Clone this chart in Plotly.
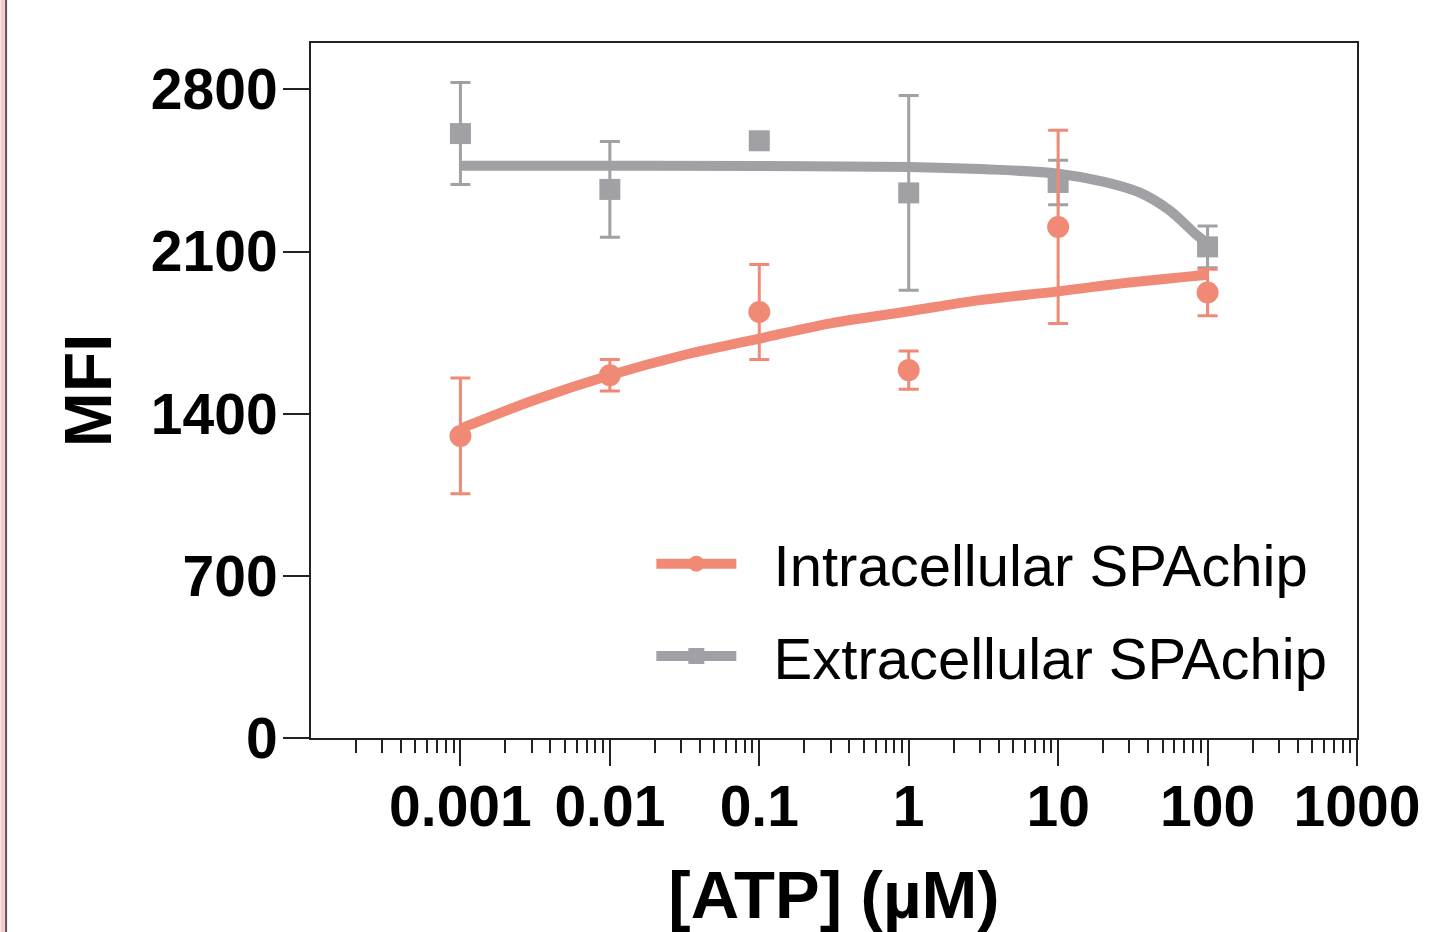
import plotly.graph_objects as go

# ---- data ----
atp = [0.001, 0.01, 0.1, 1, 10, 100]
intra_mfi = [1304, 1566, 1839, 1588, 2206, 1923]
intra_sd = [250, 68, 205, 83, 417, 100]
extra_mfi = [2609, 2368, 2578, 2353, 2398, 2120]
extra_sd = [220, 207, 15, 420, 96, 90]

intra_fit_x = [0.001, 0.003, 0.01, 0.03, 0.1, 0.3, 1, 3, 10, 30, 100]
intra_fit_y = [1335, 1455, 1566, 1650, 1724, 1790, 1842, 1890, 1928, 1966, 2000]
extra_fit_x = [0.001, 0.01, 0.1, 1, 3, 10, 20, 35, 55, 85, 100]
extra_fit_y = [2470, 2470, 2469, 2465, 2456, 2436, 2402, 2355, 2280, 2170, 2135]

y_ticks = [0, 700, 1400, 2100, 2800]
x_ticks = [0.001, 0.01, 0.1, 1, 10, 100, 1000]
x_ticklabels = ["0.001", "0.01", "0.1", "1", "10", "100", "1000"]
series_names = ["Intracellular SPAchip", "Extracellular SPAchip"]

SALMON = "#F08A76"
GRAY = "#A1A0A5"
FONT = "Liberation Sans, Arial, sans-serif"
NB = "\u00a0\u00a0"

fig = go.Figure()

# fitted curves
fig.add_trace(go.Scatter(x=intra_fit_x, y=intra_fit_y, mode="lines",
                         line=dict(color=SALMON, width=10, shape="spline"),
                         showlegend=False, hoverinfo="skip"))
fig.add_trace(go.Scatter(x=extra_fit_x, y=extra_fit_y, mode="lines",
                         line=dict(color=GRAY, width=10, shape="spline"),
                         showlegend=False, hoverinfo="skip"))

# data points with error bars
fig.add_trace(go.Scatter(x=atp, y=extra_mfi, mode="markers",
                         marker=dict(symbol="square", size=21, color=GRAY),
                         error_y=dict(type="data", array=extra_sd, color=GRAY,
                                      thickness=3, width=10),
                         showlegend=False))
fig.add_trace(go.Scatter(x=atp, y=intra_mfi, mode="markers",
                         marker=dict(symbol="circle", size=22, color=SALMON),
                         error_y=dict(type="data", array=intra_sd, color=SALMON,
                                      thickness=3, width=10),
                         showlegend=False))

# legend entries
fig.add_trace(go.Scatter(x=[None], y=[None], mode="lines+markers", name=NB + series_names[0],
                         legendgroup="a",
                         line=dict(color=SALMON, width=10),
                         marker=dict(symbol="circle", size=22, color=SALMON)))
fig.add_trace(go.Scatter(x=[None], y=[None], mode="lines+markers", name=NB + series_names[1],
                         legendgroup="b",
                         line=dict(color=GRAY, width=10),
                         marker=dict(symbol="square", size=21, color=GRAY)))

minor_vals = [k * 10.0 ** e for e in range(-4, 3) for k in range(2, 10)]

fig.update_layout(
    width=1432, height=932,
    margin=dict(l=311, r=73, t=43, b=194),
    paper_bgcolor="white", plot_bgcolor="white",
    font=dict(family=FONT, color="black"),
    showlegend=True,
    legend=dict(x=(652 - 311) / 1048, y=(738 - 610) / 695, xanchor="left", yanchor="middle",
                font=dict(family=FONT, size=58, color="black"),
                bgcolor="rgba(0,0,0,0)", tracegroupgap=14, itemwidth=80,
                traceorder="grouped"),
    xaxis=dict(type="log", range=[-4, 3],
               tickmode="array", tickvals=x_ticks, ticktext=x_ticklabels,
               ticks="outside", ticklen=26, tickwidth=2, tickcolor="#222",
               ticklabelstandoff=-8,
               showline=True, linewidth=2, linecolor="#222", mirror=True,
               showgrid=False, zeroline=False,
               tickfont=dict(family=FONT, size=57, weight="bold", color="black"),
               minor=dict(tickmode="array", tickvals=minor_vals, ticks="outside",
                          ticklen=13, tickwidth=2, tickcolor="#222", showgrid=False),
               title=dict(text="[ATP] (µM)", standoff=34,
                          font=dict(family=FONT, size=67, weight="bold", color="black"))),
    yaxis=dict(range=[0, 3000], tickmode="array", tickvals=y_ticks,
               ticks="outside", ticklen=26, tickwidth=2, tickcolor="#222",
               ticklabelstandoff=-6,
               showline=True, linewidth=2, linecolor="#222", mirror=True,
               showgrid=False, zeroline=False,
               tickfont=dict(family=FONT, size=57, weight="bold", color="black"),
               title=dict(text="MFI", standoff=18,
                          font=dict(family=FONT, size=66, weight="bold", color="black"))),
    shapes=[
        dict(type="rect", xref="paper", yref="paper",
             x0=-311 / 1048, x1=-306 / 1048, y0=-194 / 695, y1=1 + 43 / 695,
             fillcolor="#FFC8CC", line=dict(width=0), layer="above"),
        dict(type="line", xref="paper", yref="paper",
             x0=-305.5 / 1048, x1=-305.5 / 1048, y0=-194 / 695, y1=1 + 43 / 695,
             line=dict(color="#555", width=2), layer="above"),
    ],
)

fig.write_html("out.html", config={"displayModeBar": False},
               post_script="document.body.style.margin='0px';")
